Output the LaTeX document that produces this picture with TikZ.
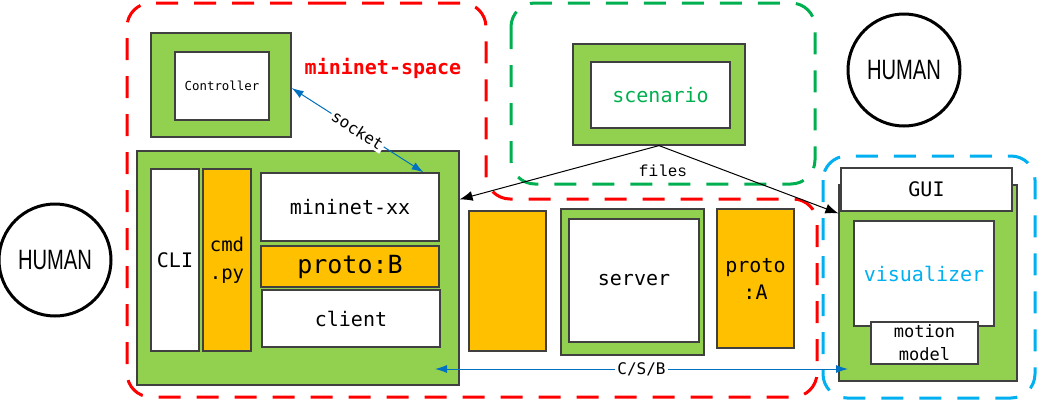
\documentclass[tikz,border=0pt]{standalone}
\usepackage{fontspec}
\setmonofont{DejaVu Sans Mono}
\newfontfamily\filesfont{Liberation Mono}
\newfontfamily\humanfont[FakeStretch=0.72]{Liberation Sans}
\usetikzlibrary{shapes,arrows.meta,positioning}

\definecolor{leaf}{HTML}{92D050}
\definecolor{amber}{HTML}{FFC000}
\definecolor{edge}{HTML}{404040}
\definecolor{redline}{HTML}{FF0000}
\definecolor{greenline}{HTML}{00B050}
\definecolor{blueline}{HTML}{00B0F0}
\definecolor{arrowblue}{HTML}{0070C0}

\begin{document}
\begin{tikzpicture}[
    x=0.5pt, y=-0.5pt,
    zone/.style={dash pattern=on 11pt off 8pt, line width=1.5pt, rounded corners=12pt},
    size/.style 2 args={minimum width=#1pt, minimum height=#2pt},
    shell/.style={rectangle, draw=edge, line width=0.6pt, fill=leaf, inner sep=0pt},
    panel/.style={rectangle, draw=edge, line width=0.6pt, fill=white, inner sep=0pt, align=center, font=\ttfamily\fontsize{10}{14}\selectfont},
    proto/.style={rectangle, draw=edge, line width=0.6pt, fill=amber, inner sep=0pt, align=center, font=\ttfamily\fontsize{10}{13.5}\selectfont},
    human/.style={circle, draw, line width=1.5pt, minimum size=56pt, inner sep=0pt, font=\humanfont\fontsize{14}{16}\selectfont},
    arrow/.style={-{Latex[length=6.5pt,width=5pt]}, line width=0.5pt},
    link/.style={{Latex[length=6pt,width=4pt]}-{Latex[length=6pt,width=4pt]}, draw=arrowblue, line width=0.5pt},
    tag/.style={fill=white, inner sep=1pt, font=\ttfamily\fontsize{8}{10}\selectfont}
]
\path[use as bounding box, fill=white] (0,0) rectangle (1040,402);

% Spaces
\draw[zone, draw=redline] (300,3) -- (486,3) -- (486,199) -- (817,199) -- (817,397) -- (127,397) -- (127,3) -- cycle;
\draw[zone, draw=greenline] (511,3) rectangle (815,184);
\draw[zone, draw=blueline] (823,156) rectangle (1035,398);
\node[font=\ttfamily\bfseries\fontsize{10}{12}\selectfont, text=redline] (spacelbl) at (383,68) {mininet-space};

% Controller
\node[shell, size={70}{52}] (ctrlbox) at (221,85) {};
\node[panel, size={47}{34}, font=\ttfamily\fontsize{6.2}{7}\selectfont] (ctrl) at (222,86) {Controller};

% Mininet host
\node[shell, size={161}{117}] (mnbox) at (298,268) {};
\node[panel, size={24}{91}] (cli) at (175,260) {CLI};
\node[proto, size={24}{91}, font=\ttfamily\fontsize{9.5}{14}\selectfont] (cmd) at (227,260) {cmd\\.py};
\node[panel, size={89}{34}] (mnxx) at (350,207) {mininet-xx};
\node[proto, size={89}{20.5}, font=\ttfamily\fontsize{12.5}{14}\selectfont] (protob) at (350,266.5) {proto:B};
\node[panel, size={89}{28.5}] (client) at (351,318.5) {client};

% Server side
\node[proto, size={38.5}{70}] (relay) at (507.5,281) {};
\node[shell, size={71.5}{73}] (srvbox) at (632.5,282) {};
\node[panel, size={65}{61.5}] (server) at (634,280.5) {server};
\node[proto, size={38.5}{69.5}] (protoa) at (755.5,278.5) {proto\\:A};

% Scenario
\node[shell, size={86}{50.5}] (scenbox) at (659,94.5) {};
\node[panel, size={69.5}{33}, text=greenline] (scen) at (660.5,95) {scenario};

% GUI
\node[shell, size={89}{98}] (visbox) at (928,283) {};
\node[panel, size={85.5}{21.5}] (gui) at (926.5,189.5) {GUI};
\node[panel, size={70}{52.5}, text=blueline] (vis) at (924,273.5) {visualizer};
\node[panel, size={53.5}{21}, font=\ttfamily\fontsize{8.5}{11.5}\selectfont] (motion) at (924.5,343) {motion\\model};

% Humans
\node[human] (humanl) at (55,260) {HUMAN};
\node[human] (humanr) at (904,70) {HUMAN};

% Arrows
\draw[link] ([yshift=-1.5pt]ctrlbox.east) -- node[tag, sloped] {socket} ([xshift=-8pt]mnxx.north east);

\draw[arrow] (scenbox.south) -- ([yshift=-24.5pt]mnbox.north east);
\draw[arrow] (scenbox.south) -- ([yshift=-14.5pt]visbox.north west);
\node[font=\filesfont\fontsize{8}{10}\selectfont] (files) at (663,171) {files};

\coordinate (csbl) at (435,369);
\coordinate (csbr) at (848,369);
\draw[link] (csbl) -- node[tag] {C/S/B} (csbr);

\end{tikzpicture}
\end{document}
